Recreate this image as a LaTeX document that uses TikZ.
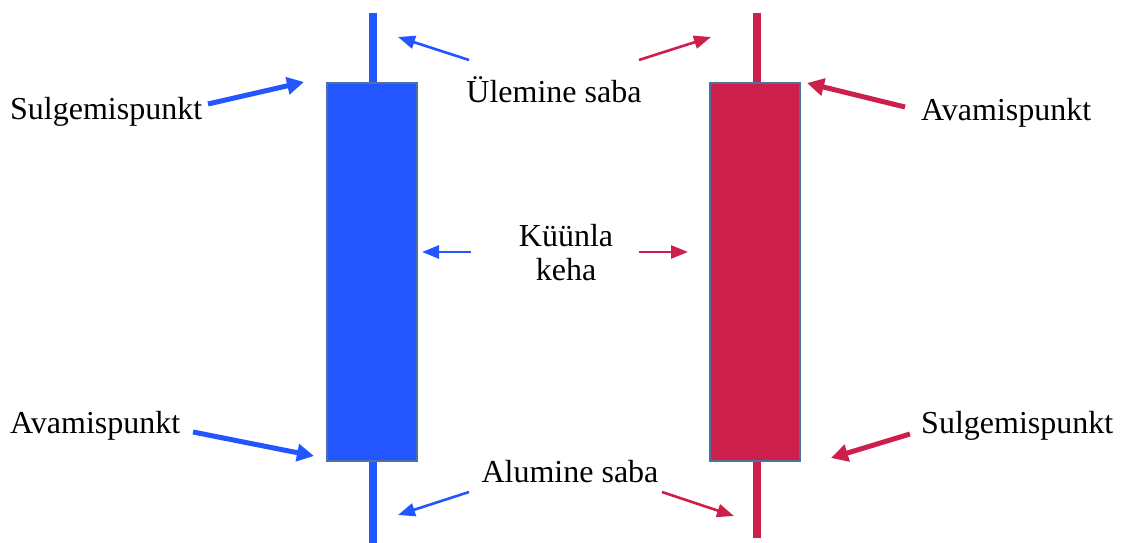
\documentclass[tikz,border=0pt]{standalone}
\usepackage{fontspec}
\setmainfont{Liberation Serif}
\usetikzlibrary{arrows.meta}
\definecolor{bullblue}{HTML}{2356FF}
\definecolor{bearred}{HTML}{CC1F4C}
\definecolor{edgeblue}{HTML}{4A74A0}
\tikzset{
  lbl/.style={inner sep=0pt, font=\fontsize{32}{34}\selectfont, align=center},
  body/.style={draw=edgeblue, line width=2pt, minimum width=90pt, minimum height=378pt, inner sep=0pt},
  wick/.style={line width=7.5pt},
  thin/.style={line width=2.6pt, -{Triangle[length=17pt,width=13pt]}},
  thick/.style={line width=5pt, -{Triangle[length=17pt,width=17pt]}}
}
\begin{document}
\begin{tikzpicture}[x=1pt,y=-1pt]
\useasboundingbox (0,0) rectangle (1122,543);

% wicks
\coordinate (bhi) at (373,13);
\coordinate (blo) at (373,543);
\coordinate (rhi) at (757,13);
\coordinate (rlo) at (757,538);
\draw[wick, bullblue] (bhi) -- (blo);
\draw[wick, bearred] (rhi) -- (rlo);

% candle bodies
\node[body, fill=bullblue] (bbody) at (372,272) {};
\node[body, fill=bearred] (rbody) at (755,272) {};

% labels
\node[lbl] (upper) at (554,90) {Ülemine saba};
\node[lbl] (mid) at (566,253) {Küünla\\keha};
\node[lbl] (lower) at (570,472) {Alumine saba};
\node[lbl, anchor=west] (bclose) at (10,112) {Sulgemispunkt};
\node[lbl, anchor=west] (bopen) at (10,426) {Avamispunkt};
\node[lbl, anchor=west] (ropen) at (921,113) {Avamispunkt};
\node[lbl, anchor=west] (rclose) at (921,426) {Sulgemispunkt};

% arrow ends
\coordinate (a1s) at (469,60);  \coordinate (a1t) at (398,37);
\coordinate (a2s) at (639,60);  \coordinate (a2t) at (711,37);
\coordinate (a3s) at (471,252); \coordinate (a3t) at (422,252);
\coordinate (a4s) at (639,252); \coordinate (a4t) at (688,252);
\coordinate (a5s) at (469,492); \coordinate (a5t) at (398,515);
\coordinate (a6s) at (662,492); \coordinate (a6t) at (734,516);
\coordinate (b1s) at (208,104); \coordinate (b1t) at (304,82);
\coordinate (b2s) at (905,107); \coordinate (b2t) at (807,83);
\coordinate (b3s) at (193,432); \coordinate (b3t) at (314,456);
\coordinate (b4s) at (910,434); \coordinate (b4t) at (831,458);

\draw[thin, bullblue] (a1s) -- (a1t);
\draw[thin, bearred] (a2s) -- (a2t);
\draw[thin, bullblue] (a3s) -- (a3t);
\draw[thin, bearred] (a4s) -- (a4t);
\draw[thin, bullblue] (a5s) -- (a5t);
\draw[thin, bearred] (a6s) -- (a6t);
\draw[thick, bullblue] (b1s) -- (b1t);
\draw[thick, bearred] (b2s) -- (b2t);
\draw[thick, bullblue] (b3s) -- (b3t);
\draw[thick, bearred] (b4s) -- (b4t);
\end{tikzpicture}
\end{document}
